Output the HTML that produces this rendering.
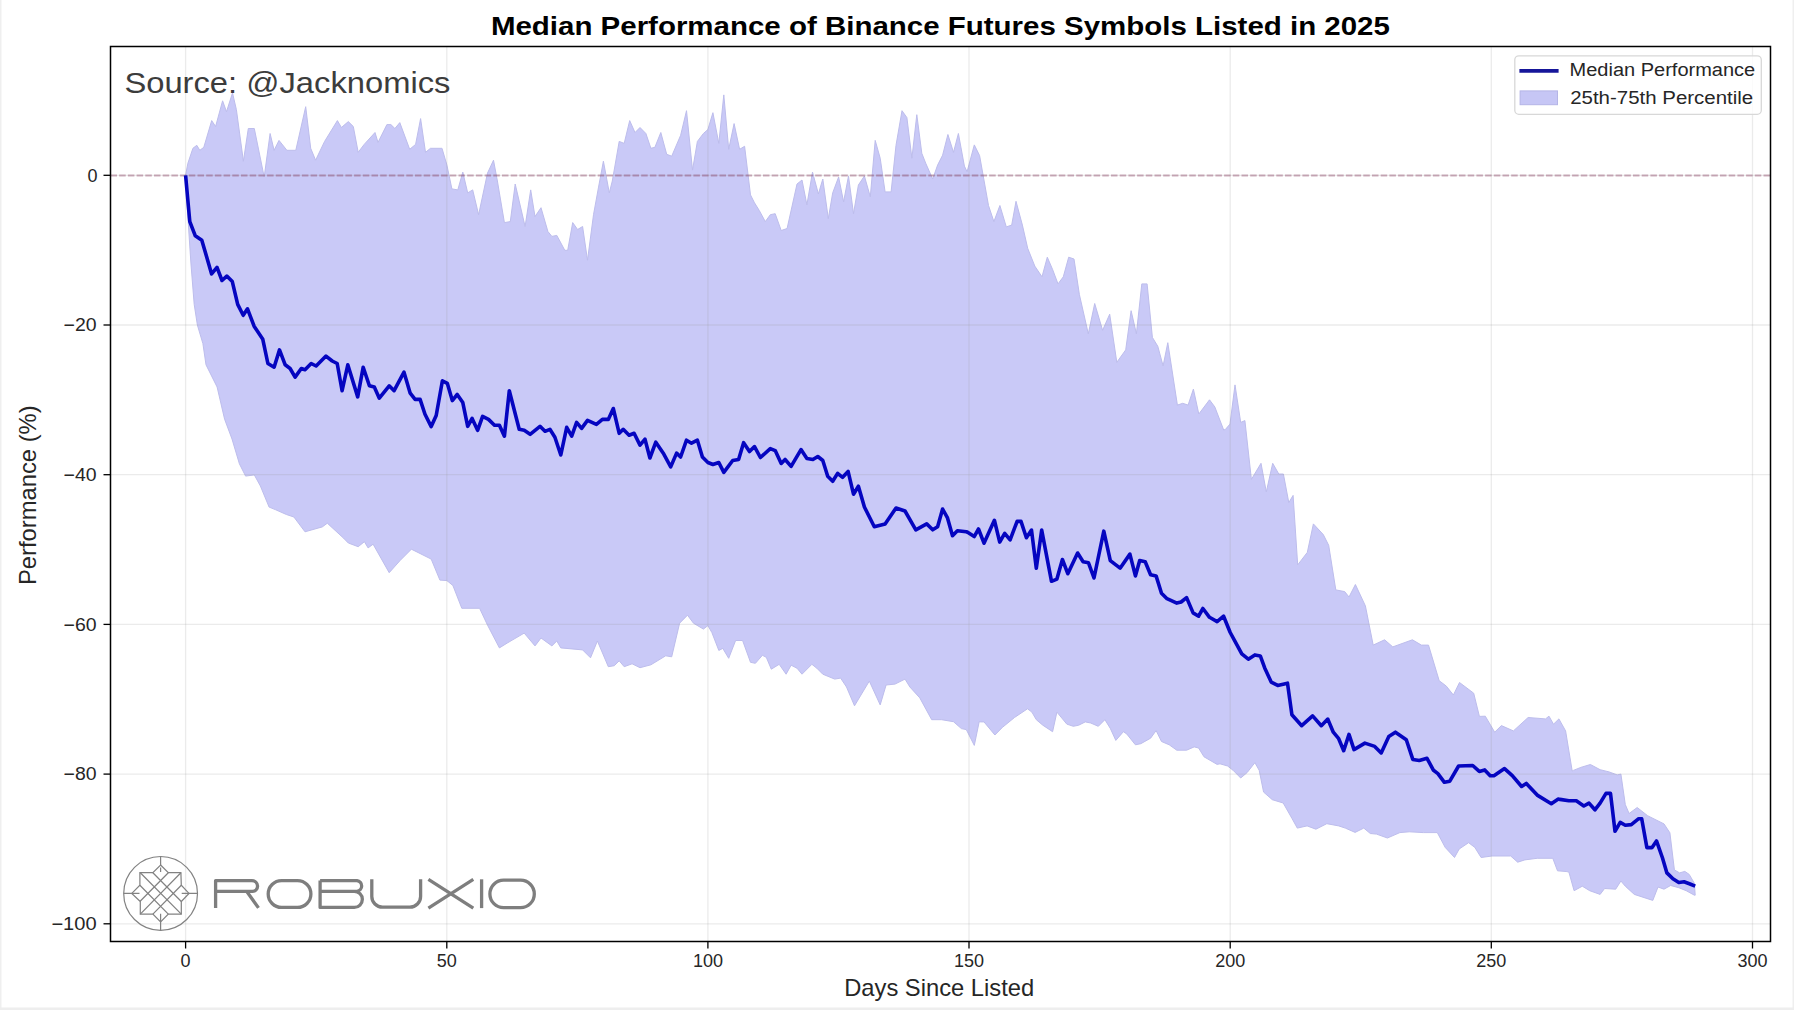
<!DOCTYPE html>
<html><head><meta charset="utf-8"><style>
html,body{margin:0;padding:0;background:#fff;}
svg{display:block;}
text{font-family:"Liberation Sans",sans-serif;}
</style></head><body>
<svg width="1794" height="1010" viewBox="0 0 1794 1010">
<rect x="0" y="0" width="1794" height="1010" fill="#ffffff"/>
<rect x="0" y="0" width="1.5" height="1010" fill="#efefef"/>
<rect x="1792.5" y="0" width="1.5" height="1010" fill="#efefef"/>
<rect x="0" y="1007.5" width="1794" height="2.5" fill="#eeeeee"/>
<polygon points="185.6,175.3 187.9,163.2 192.9,148.3 196.8,145.3 199.8,150.3 203.8,147.3 211.7,120.6 215.6,126.5 222.6,100.8 226.5,111.7 232.5,92.9 236.4,109.7 243.4,161.2 248.3,128.5 254.3,128.5 264.2,177.0 270.1,133.5 274.1,150.3 279.0,140.4 286.9,150.3 295.8,150.3 305.7,106.7 310.7,148.3 315.6,160.2 324.6,141.4 337.4,120.6 341.4,127.5 348.3,121.6 353.3,126.5 358.2,152.3 364.2,144.4 375.0,132.5 378.0,142.4 386.9,124.6 390.9,124.6 394.9,128.5 399.8,122.6 409.7,149.3 415.6,144.4 420.6,118.6 425.5,152.3 430.5,148.3 441.4,148.3 442.0,148.3 446.9,165.1 451.9,188.9 457.8,189.9 462.8,172.1 467.7,192.9 472.7,189.9 478.6,214.7 487.5,173.1 493.5,160.2 497.4,181.0 504.4,222.6 510.3,221.6 515.2,184.0 525.1,226.5 530.7,189.9 535.0,216.6 541.0,207.7 547.9,231.5 551.9,236.4 556.8,235.4 564.8,250.3 567.7,250.3 572.7,222.6 577.6,229.5 582.6,226.5 587.5,260.2 593.5,214.7 598.4,187.9 603.4,161.2 609.3,192.9 612.3,181.0 619.2,141.4 624.2,143.4 629.7,120.6 635.0,132.5 640.0,127.5 645.9,133.5 650.9,148.3 654.9,147.3 660.8,132.5 666.7,154.3 671.7,156.2 680.6,135.4 686.5,110.7 692.5,170.1 697.4,141.4 703.4,133.5 707.9,129.5 712.9,112.7 718.8,143.4 723.8,94.9 728.7,149.3 734.1,123.6 739.6,149.3 744.6,146.3 750.5,194.9 754.5,202.8 759.4,210.7 765.3,221.6 770.3,214.7 775.2,213.7 781.2,230.5 787.1,228.5 797.0,184.0 802.0,180.0 806.9,204.8 812.5,172.1 818.4,193.9 822.8,179.0 828.3,218.6 832.7,192.9 838.6,177.0 843.6,201.8 848.5,176.0 853.5,213.7 858.4,185.0 864.4,176.0 870.3,196.8 875.2,140.4 880.2,158.2 885.1,191.9 891.1,191.9 896.0,145.3 902.0,110.7 906.9,117.6 911.9,158.2 916.8,114.7 921.8,153.3 925.7,163.2 932.7,179.0 937.6,165.1 942.6,155.2 947.9,134.5 953.5,152.3 958.4,133.5 964.4,166.1 967.1,171.7 974.3,144.9 979.6,155.6 988.5,205.5 993.9,221.6 999.9,205.5 1006.3,226.9 1011.7,225.1 1016.0,201.3 1022.4,225.1 1027.7,248.3 1034.8,266.1 1042.0,276.8 1047.3,257.2 1052.7,269.7 1058.0,283.9 1063.3,276.8 1068.7,257.2 1074.0,259.0 1079.4,294.6 1088.3,333.8 1094.7,303.5 1102.6,330.3 1109.7,314.2 1116.8,362.3 1125.7,349.9 1131.1,310.7 1136.4,333.8 1141.8,283.9 1147.1,283.9 1152.4,337.4 1157.8,346.3 1163.1,365.9 1167.8,342.7 1177.4,405.1 1182.7,403.3 1188.1,405.1 1193.4,389.1 1198.8,414.0 1209.5,399.8 1214.8,406.9 1223.7,430.0 1225.3,429.5 1230.0,424.1 1235.0,384.9 1240.7,422.4 1244.9,420.6 1251.4,479.4 1261.0,463.3 1266.3,491.9 1272.7,463.3 1278.8,474.0 1283.4,474.0 1288.8,502.6 1293.1,495.4 1297.7,564.9 1307.3,552.4 1313.4,523.9 1323.3,534.6 1328.7,545.3 1335.8,589.9 1344.7,591.6 1349.0,597.0 1355.4,584.5 1365.4,605.9 1373.2,645.1 1384.6,639.8 1392.8,646.9 1412.4,639.8 1421.4,645.1 1428.5,645.1 1439.2,680.7 1446.3,686.1 1453.4,695.0 1459.5,682.5 1473.7,693.2 1479.4,716.4 1485.3,716.2 1494.7,732.2 1501.4,725.6 1513.4,730.9 1528.1,717.5 1545.5,718.9 1549.0,716.2 1553.5,724.2 1558.9,718.9 1565.6,730.9 1572.2,771.0 1573.4,770.4 1580.8,767.4 1590.4,764.5 1600.1,769.7 1609.0,771.9 1617.2,774.9 1620.9,774.1 1625.3,804.6 1629.1,813.5 1637.2,807.5 1647.6,815.7 1664.0,823.9 1669.9,832.8 1674.4,869.9 1679.6,872.9 1684.8,871.4 1689.2,874.4 1694.4,883.3 1695.2,895.2 1695.2,895.2 1694.4,895.2 1686.2,890.7 1678.8,887.7 1670.6,885.5 1664.0,889.2 1658.0,887.0 1652.8,900.4 1634.3,894.4 1625.3,886.2 1620.9,881.0 1615.7,889.2 1604.6,888.5 1600.1,894.4 1589.7,890.7 1582.3,886.2 1574.1,890.7 1568.9,872.1 1566.9,871.6 1557.5,870.8 1552.8,858.3 1537.2,858.3 1524.8,859.9 1517.7,862.2 1510.7,856.0 1492.0,856.0 1481.1,857.5 1474.8,847.4 1468.6,842.7 1459.2,849.0 1454.5,857.5 1445.2,847.4 1437.3,832.6 1423.3,832.6 1409.3,831.8 1399.9,832.6 1387.4,838.0 1376.5,834.1 1370.3,833.5 1363.8,828.1 1355.1,832.4 1345.3,828.1 1338.7,825.9 1326.8,823.7 1315.9,829.2 1307.1,825.9 1297.3,828.1 1291.9,818.3 1283.2,803.0 1272.3,799.7 1263.6,792.1 1259.2,770.3 1254.9,762.7 1247.2,772.5 1240.7,778.0 1233.1,770.3 1227.6,766.0 1220.0,763.8 1217.1,764.4 1204.0,756.8 1198.6,748.0 1194.2,746.9 1186.6,750.2 1176.8,750.2 1169.2,744.8 1161.5,741.5 1156.1,730.6 1150.6,738.2 1140.8,743.7 1135.4,744.8 1126.7,733.9 1123.4,731.7 1115.8,740.4 1110.3,728.4 1104.9,719.7 1098.3,726.3 1090.7,723.0 1085.3,721.9 1078.7,725.2 1073.3,726.3 1066.8,724.1 1056.9,712.1 1052.6,731.7 1042.8,725.2 1036.3,719.7 1031.9,712.1 1027.5,708.8 1014.5,717.5 1002.5,727.3 994.9,735.0 984.0,721.9 980.7,721.9 979.2,721.7 974.3,745.4 966.3,729.6 961.4,728.6 953.5,721.7 941.6,719.7 931.7,719.7 919.8,697.9 909.9,687.0 905.0,679.1 895.0,684.1 886.1,685.0 880.2,704.9 869.3,681.1 854.5,705.8 846.5,687.0 840.6,678.1 834.7,679.1 822.8,674.2 816.8,668.2 811.9,664.3 802.0,674.2 797.0,668.2 791.1,665.2 786.1,674.2 779.2,664.3 771.3,669.2 766.3,657.3 762.4,655.3 755.4,663.3 750.5,662.3 742.6,640.5 735.6,640.5 728.7,658.3 722.8,648.4 718.8,650.4 711.9,632.6 707.9,625.6 703.4,629.1 693.5,623.2 687.5,615.2 679.6,623.2 671.7,656.8 665.7,655.8 650.9,664.8 640.0,667.7 632.1,663.8 624.2,666.7 619.2,660.8 614.3,665.7 608.3,666.7 597.4,641.0 590.5,657.8 582.6,649.9 560.8,647.9 556.8,641.0 551.9,645.9 541.0,638.0 535.0,645.9 524.2,633.1 507.3,643.0 499.4,647.9 487.5,625.1 479.6,608.3 461.8,608.3 452.9,585.5 446.9,580.6 439.9,580.1 431.2,559.1 411.4,549.2 400.3,560.3 389.2,572.7 373.1,544.2 368.1,547.9 364.4,541.7 358.2,546.7 348.3,543.0 343.4,538.0 327.3,523.2 322.3,526.9 305.0,531.8 293.9,517.0 286.4,514.5 275.3,509.6 269.1,507.1 260.4,486.0 254.3,474.9 245.6,476.1 239.4,463.8 232.0,439.0 224.6,419.2 217.1,387.0 206.0,364.8 202.9,343.6 197.4,325.1 194.2,304.4 190.9,263.0 187.6,212.9 185.6,175.3" fill="#c9c9f7" stroke="#bdbdec" stroke-width="1" stroke-linejoin="round"/>
<g stroke="#9a9a9a" stroke-opacity="0.2" stroke-width="1.3"><line x1="185.6" y1="46.5" x2="185.6" y2="941.5"/><line x1="446.8" y1="46.5" x2="446.8" y2="941.5"/><line x1="707.9" y1="46.5" x2="707.9" y2="941.5"/><line x1="969.0" y1="46.5" x2="969.0" y2="941.5"/><line x1="1230.2" y1="46.5" x2="1230.2" y2="941.5"/><line x1="1491.3" y1="46.5" x2="1491.3" y2="941.5"/><line x1="1752.5" y1="46.5" x2="1752.5" y2="941.5"/><line x1="110.5" y1="175.3" x2="1770.5" y2="175.3"/><line x1="110.5" y1="325.0" x2="1770.5" y2="325.0"/><line x1="110.5" y1="474.7" x2="1770.5" y2="474.7"/><line x1="110.5" y1="624.4" x2="1770.5" y2="624.4"/><line x1="110.5" y1="774.1" x2="1770.5" y2="774.1"/><line x1="110.5" y1="923.8" x2="1770.5" y2="923.8"/></g>
<line x1="110.5" y1="175.5" x2="1770.5" y2="175.5" stroke="#85375a" stroke-opacity="0.4" stroke-width="2" stroke-dasharray="6.5 2.2"/>
<polyline points="185.6,175.3 187.6,197.7 189.8,221.6 195.3,235.8 201.8,240.2 207.2,258.7 211.6,273.9 217.0,267.4 222.0,280.5 226.8,276.1 232.3,281.6 237.7,304.4 243.2,315.3 247.5,308.8 254.1,326.2 262.8,339.3 267.9,363.5 274.1,367.2 279.5,349.9 285.2,364.8 290.1,368.5 295.1,377.1 301.3,368.5 305.0,369.7 311.2,363.5 316.1,366.0 326.0,356.1 332.2,361.0 337.2,363.5 342.1,390.7 347.8,364.8 357.7,396.9 363.2,367.2 369.4,385.8 374.3,387.0 379.3,398.2 389.2,385.8 394.1,390.7 404.0,372.2 410.2,393.2 415.1,399.4 420.1,399.4 425.0,414.3 431.2,426.6 436.2,415.5 442.4,380.8 447.3,383.3 452.3,400.6 457.2,394.5 462.8,402.6 467.7,426.3 472.1,418.4 477.6,430.3 482.6,416.4 488.5,419.4 494.5,425.3 499.4,425.3 504.4,436.2 509.3,390.7 519.2,429.3 524.2,430.3 530.1,434.3 540.0,426.3 545.0,431.3 549.9,429.3 554.9,437.2 560.8,455.0 566.7,427.3 571.7,436.2 576.6,422.4 581.6,428.3 587.5,420.4 596.4,424.4 602.4,419.4 608.3,419.4 613.3,408.5 619.2,433.3 623.2,429.3 629.1,435.2 634.1,433.3 640.0,445.1 645.0,439.2 649.9,458.0 655.8,442.2 663.8,454.1 670.7,466.9 676.6,453.1 680.6,457.0 686.5,440.2 691.5,443.2 697.4,440.2 702.4,457.0 707.9,462.5 712.9,464.5 718.8,462.5 723.8,472.4 732.7,460.5 738.6,459.5 743.6,442.7 749.5,451.6 754.5,446.6 760.4,457.5 770.3,448.6 775.2,450.6 781.2,463.5 785.1,459.5 791.1,466.4 801.0,449.6 806.9,458.5 812.9,459.5 817.8,456.5 822.8,460.5 827.7,476.3 832.7,481.3 837.6,473.4 842.6,477.3 848.1,471.4 853.5,494.2 858.4,486.2 864.4,507.0 874.3,526.8 885.1,523.9 896.0,508.0 905.0,511.0 915.8,529.8 926.7,523.9 932.7,529.8 937.6,526.8 942.6,509.0 947.5,517.9 952.5,535.7 957.4,530.8 966.3,531.8 967.6,532.3 974.2,536.6 978.5,529.0 984.0,543.2 994.4,520.3 999.7,542.1 1004.7,533.4 1010.1,539.9 1017.1,521.4 1021.0,521.4 1026.4,537.7 1031.5,530.1 1036.3,568.2 1041.7,530.1 1051.5,581.3 1056.9,579.1 1062.4,559.5 1067.8,573.7 1077.6,553.0 1083.1,561.7 1088.5,562.8 1094.0,578.0 1103.8,531.2 1110.3,560.6 1120.1,568.2 1129.9,554.1 1135.4,575.9 1139.7,560.6 1145.2,561.7 1150.6,574.8 1156.1,575.9 1161.5,593.3 1167.0,598.7 1176.8,603.1 1181.1,602.0 1186.6,597.6 1193.1,612.9 1198.6,616.2 1202.9,608.5 1209.5,617.3 1217.1,621.6 1223.6,616.2 1230.2,632.5 1235.3,641.8 1241.8,653.8 1248.3,659.2 1254.9,654.9 1260.3,655.9 1264.7,667.9 1271.2,682.1 1277.7,685.4 1287.5,683.2 1291.9,714.8 1301.7,725.7 1312.6,715.9 1321.3,725.7 1327.8,719.1 1333.3,732.2 1338.7,738.7 1343.7,750.7 1349.0,734.4 1354.0,749.6 1364.9,743.1 1374.7,746.4 1381.2,752.9 1388.8,736.6 1395.4,732.2 1406.3,739.8 1412.8,759.4 1419.3,760.5 1427.0,758.3 1433.5,770.3 1437.9,773.6 1444.4,782.3 1449.8,781.2 1458.6,766.0 1472.7,765.5 1479.3,771.4 1484.7,769.9 1490.2,775.8 1494.3,775.6 1504.5,768.6 1512.3,775.6 1521.6,786.5 1526.3,783.4 1537.2,795.1 1551.3,803.7 1558.3,799.0 1560.0,799.4 1568.9,800.8 1576.3,800.8 1583.8,806.0 1589.0,803.1 1594.9,809.8 1600.1,803.1 1606.0,793.4 1610.5,793.4 1615.0,831.3 1620.2,822.4 1625.3,825.3 1631.3,824.6 1638.7,818.7 1641.7,818.7 1646.9,847.6 1652.1,847.6 1656.5,840.9 1662.5,858.0 1666.9,872.9 1672.9,878.8 1678.8,882.5 1684.0,881.8 1690.0,884.0 1695.2,886.2" fill="none" stroke="#0505c0" stroke-width="3.6" stroke-linejoin="round" stroke-linecap="butt"/>
<rect x="110.5" y="46.5" width="1660" height="895" fill="none" stroke="#000" stroke-width="1.5"/>
<g stroke="#000" stroke-width="1.3"><line x1="185.6" y1="941.5" x2="185.6" y2="948.5"/><line x1="446.8" y1="941.5" x2="446.8" y2="948.5"/><line x1="707.9" y1="941.5" x2="707.9" y2="948.5"/><line x1="969.0" y1="941.5" x2="969.0" y2="948.5"/><line x1="1230.2" y1="941.5" x2="1230.2" y2="948.5"/><line x1="1491.3" y1="941.5" x2="1491.3" y2="948.5"/><line x1="1752.5" y1="941.5" x2="1752.5" y2="948.5"/><line x1="103.5" y1="175.3" x2="110.5" y2="175.3"/><line x1="103.5" y1="325.0" x2="110.5" y2="325.0"/><line x1="103.5" y1="474.7" x2="110.5" y2="474.7"/><line x1="103.5" y1="624.4" x2="110.5" y2="624.4"/><line x1="103.5" y1="774.1" x2="110.5" y2="774.1"/><line x1="103.5" y1="923.8" x2="110.5" y2="923.8"/></g>
<g font-size="18" fill="#262626"><text x="185.6" y="966.5" text-anchor="middle">0</text><text x="446.8" y="966.5" text-anchor="middle">50</text><text x="707.9" y="966.5" text-anchor="middle">100</text><text x="969.0" y="966.5" text-anchor="middle">150</text><text x="1230.2" y="966.5" text-anchor="middle">200</text><text x="1491.3" y="966.5" text-anchor="middle">250</text><text x="1752.5" y="966.5" text-anchor="middle">300</text><text x="97.6" y="181.6" text-anchor="end">0</text><text x="96.6" y="331.3" text-anchor="end" textLength="33.0" lengthAdjust="spacingAndGlyphs">−20</text><text x="96.6" y="481.0" text-anchor="end" textLength="33.0" lengthAdjust="spacingAndGlyphs">−40</text><text x="96.6" y="630.7" text-anchor="end" textLength="33.0" lengthAdjust="spacingAndGlyphs">−60</text><text x="96.6" y="780.4" text-anchor="end" textLength="33.0" lengthAdjust="spacingAndGlyphs">−80</text><text x="96.6" y="930.1" text-anchor="end" textLength="45.2" lengthAdjust="spacingAndGlyphs">−100</text></g>
<text x="939.2" y="996.4" text-anchor="middle" font-size="24" fill="#262626" textLength="190" lengthAdjust="spacingAndGlyphs">Days Since Listed</text>
<text transform="translate(35.6,495.2) rotate(-90)" text-anchor="middle" font-size="24" fill="#262626" textLength="179.6" lengthAdjust="spacingAndGlyphs">Performance (%)</text>
<text x="940.4" y="35.3" text-anchor="middle" font-size="25" font-weight="bold" fill="#000" textLength="899" lengthAdjust="spacingAndGlyphs">Median Performance of Binance Futures Symbols Listed in 2025</text>
<text x="124.4" y="92.9" font-size="30" fill="#3c3c3c" textLength="326" lengthAdjust="spacingAndGlyphs">Source: @Jacknomics</text>
<rect x="1514.8" y="55.8" width="246.5" height="58.5" rx="4" ry="4" fill="#ffffff" fill-opacity="0.8" stroke="#d8d8d8" stroke-width="1.3"/>
<line x1="1519.4" y1="70.8" x2="1558.6" y2="70.8" stroke="#16169a" stroke-width="3.8"/>
<rect x="1520.1" y="90.9" width="37.4" height="13.8" fill="#c6c6f5" stroke="#b5b5e6" stroke-width="1"/>
<text x="1569.6" y="76.4" font-size="18" fill="#262626" textLength="185.6" lengthAdjust="spacingAndGlyphs">Median Performance</text>
<text x="1570.2" y="103.6" font-size="18" fill="#262626" textLength="183" lengthAdjust="spacingAndGlyphs">25th-75th Percentile</text>
<g fill="none" stroke="#828282" stroke-width="1.2">
<circle cx="160.6" cy="893.4" r="36.9"/>
<g transform="translate(120,852) scale(0.08119)" stroke-width="15">
<path d="M500,160 L595,255 L750,255 L755,410 L850,510 L755,610 L755,765 L595,765 L500,860 L405,765 L250,765 L250,610 L145,510 L245,410 L245,255 L405,255 Z"/>
<path d="M250,255 L755,765 M405,255 L755,610 M245,410 L595,765 M250,765 L750,255 M405,765 L755,410 M245,610 L595,255"/>
<path d="M500,55 L500,160 M500,190 L500,245 M500,760 L500,965 M45,510 L240,510 M760,510 L955,510"/>
</g>
</g>
<g fill="none" stroke="#7e7e7e" stroke-width="3.3" stroke-linecap="butt" stroke-linejoin="round">
<path d="M215.6,907.9 L215.6,880.6 L251.9,880.6 A5.7,5.7 0 0 1 257.6,886 A5.3,5.3 0 0 1 252.3,891.3 L215.6,891.3 M246.6,891.3 L258.5,907.9"/>
<path d="M281.6,880.6 L297.5,880.6 A13.4,13.4 0 0 1 297.5,907.4 L281.6,907.4 A13.4,13.4 0 0 1 281.6,880.6 Z"/>
<path d="M320.1,880.6 L357,880.6 A5.4,5.4 0 0 1 357,891.3 L320.1,891.3 M320.1,880.6 L320.1,907.4 L354.3,907.4 A8.05,8.05 0 0 0 354.3,891.3"/>
<path d="M371.8,879.3 L371.8,896.4 A10.7,10.7 0 0 0 382.5,907.1 L409.9,907.1 A10.7,10.7 0 0 0 420.6,896.4 L420.6,879.3"/>
<path d="M428.4,879.3 L473.3,908.1 M473.3,879.3 L428.4,908.1"/>
<path d="M481.6,879.3 L481.6,908.1"/>
<path d="M503.6,880.2 L520.6,880.2 A13.7,13.7 0 0 1 520.6,907.6 L503.6,907.6 A13.7,13.7 0 0 1 503.6,880.2 Z"/>
</g>
</svg>
</body></html>
